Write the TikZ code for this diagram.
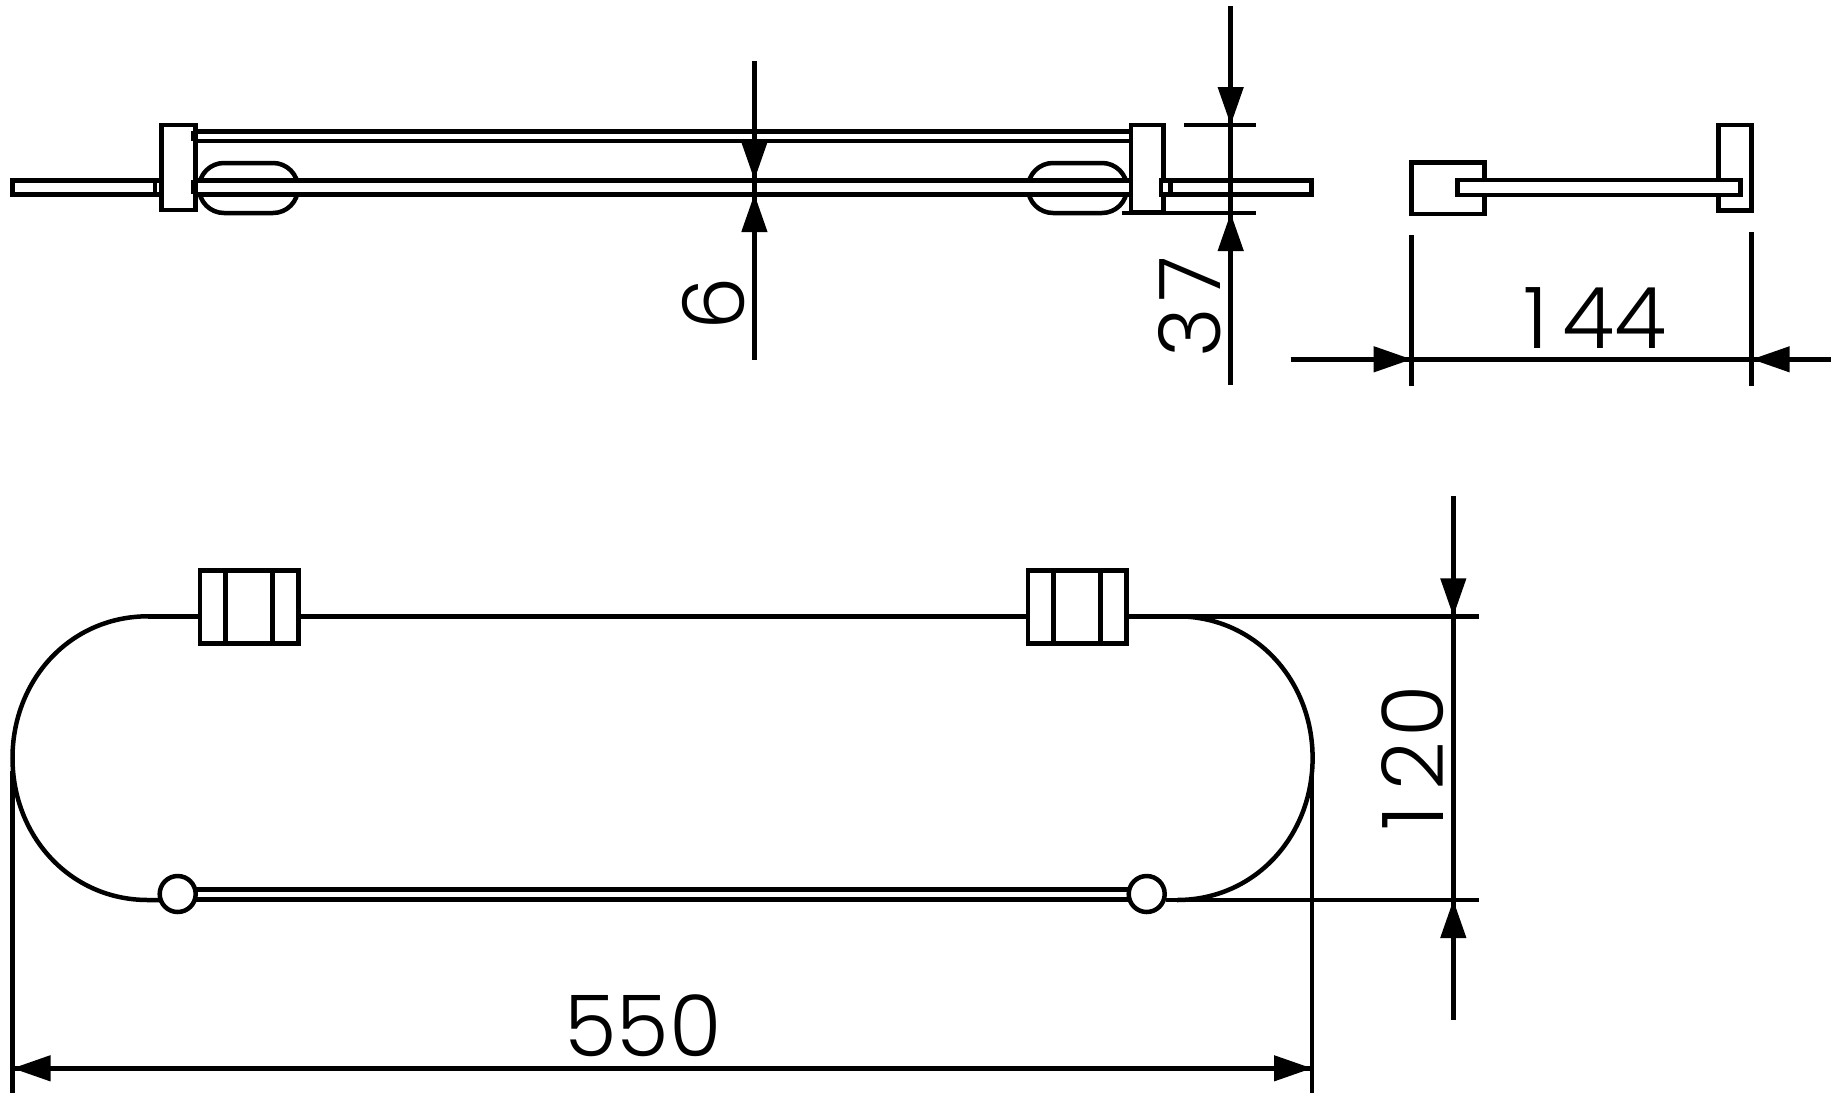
\documentclass[tikz,border=0pt]{standalone}
\usepackage{fontspec}
\setmainfont{Poppins}[UprightFont=* Light]
\usetikzlibrary{arrows.meta}
\tikzset{
    part/.style={draw, line width=4.5pt, fill=white},
    oval/.style={part, rounded corners=25pt},
    edge/.style={line width=4.5pt},
    dimtip/.style={line width=4.5pt, -{Triangle[length=38pt,width=25pt]}},
    dimtext/.style={font=\fontsize{85pt}{85pt}\selectfont, inner sep=0pt},
}
\begin{document}
\begin{tikzpicture}[x=1pt,y=-1pt]
    \useasboundingbox (0,0) rectangle (1831,1106);
    % top view, ovals
    \draw[oval] (199,163) rectangle (298,213);
    \draw[oval] (1028,163) rectangle (1127,213);
    % top view, glass and plates
    \draw[part] (193,180.3) rectangle (1131,194.3);
    \draw[part] (194,131.3) rectangle (1131,141);
    \draw[part] (12.5,180.3) rectangle (162,194.3);
    \draw[edge] (155,180.3) -- (155,194.3);
    \draw[part] (1161,180.3) rectangle (1311.7,194.3);
    \draw[edge] (1170.7,180.3) -- (1170.7,194.3);
    \draw[part] (161.5,125) rectangle (195.5,210);
    \draw[part] (1131,125) rectangle (1163.3,212);
    \draw[edge] (193.5,131.3) -- (193.5,141);
    \draw[edge] (193.5,180.3) -- (193.5,194.3);
    \draw[edge] (1131,131.3) -- (1131,141);
    \draw[edge] (1131,180.3) -- (1131,194.3);
    \draw[part] (1161,180.3) rectangle (1170.7,194.3);
    % side view
    \draw[part] (1411.7,162.3) rectangle (1484.3,214);
    \draw[part] (1718.3,125) rectangle (1751.7,210.7);
    \draw[part] (1457.3,180) rectangle (1740.3,195);
    % front view, outline
    \draw[edge] (148,616.3) .. controls (70,616.3) and (12.5,680) .. (12.5,758) .. controls (12.5,836) and (70,900) .. (148,900) -- (165,900);
    \draw[edge] (1177,616.3) .. controls (1255,616.3) and (1312.6,680) .. (1312.6,758) .. controls (1312.6,836) and (1255,900) .. (1177,900);
    \draw[edge] (148,616.3) -- (1177,616.3);
    \draw[part] (194,889.3) rectangle (1130,899.3);
    \node[part, circle, inner sep=0pt, minimum size=36pt] (pinl) at (177.7,894) {};
    \node[part, circle, inner sep=0pt, minimum size=36pt] (pinr) at (1146.7,894) {};
    % front view, clips
    \foreach \x in {200,1028} {
        \draw[part] (\x,570.7) rectangle (\x+98.3,643.3);
        \draw[edge] (\x+25.3,570.7) -- (\x+25.3,643.3);
        \draw[edge] (\x+72.7,570.7) -- (\x+72.7,643.3);
    }
    % dimension 6
    \draw[edge] (754.4,61) -- (754.4,359.7);
    \draw[dimtip] (754.4,120) -- (754.4,180);
    \draw[dimtip] (754.4,250) -- (754.4,194);
    \node[dimtext, rotate=90] (dimsix) at (714,304) {6};
    % dimension 37
    \draw[edge] (1184,125) -- (1256,125);
    \draw[edge] (1122,213) -- (1256,213);
    \draw[edge] (1230.7,6) -- (1230.7,385);
    \draw[dimtip] (1230.7,60) -- (1230.7,125);
    \draw[dimtip] (1230.7,290) -- (1230.7,213);
    \node[dimtext, rotate=90] (dimdepth) at (1190,306.5) {3\kern6pt 7};
    % dimension 144
    \draw[edge] (1411.7,235) -- (1411.7,385.7);
    \draw[edge] (1751.7,232.3) -- (1751.7,385.7);
    \draw[edge] (1290.6,359.3) -- (1831,359.3);
    \draw[dimtip] (1340,359.3) -- (1411.7,359.3);
    \draw[dimtip] (1810,359.3) -- (1751.7,359.3);
    \node[dimtext] (dimside) at (1595,318) {1\kern14pt 44};
    % dimension 120
    \draw[edge] (1165,616.3) -- (1479,616.3);
    \draw[edge] (1166,900) -- (1479,900);
    \draw[edge] (1453.3,496) -- (1453.3,1020);
    \draw[dimtip] (1453.3,550) -- (1453.3,616.3);
    \draw[dimtip] (1453.3,980) -- (1453.3,900);
    \node[dimtext, rotate=90] (dimheight) at (1413,758) {1\kern16pt 2\kern4pt 0};
    % dimension 550
    \draw[edge] (12.5,771) -- (12.5,1093);
    \draw[edge] (1312,771) -- (1312,1093);
    \draw[edge] (12.5,1068.3) -- (1312,1068.3);
    \draw[dimtip] (100,1068.3) -- (12.5,1068.3);
    \draw[dimtip] (1220,1068.3) -- (1312,1068.3);
    \node[dimtext] (dimwidth) at (643,1026) {550};
\end{tikzpicture}
\end{document}
